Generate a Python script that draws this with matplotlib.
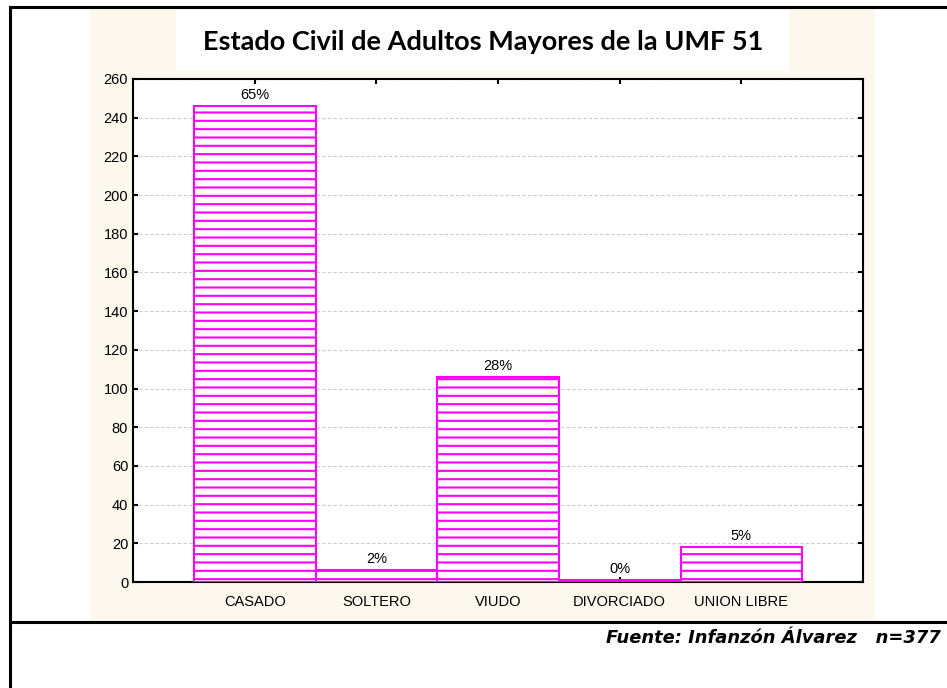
"""
Estado civil de adultos mayores (UMF 51) - gráfico de barras.
"""
import matplotlib
matplotlib.use('Agg')
import matplotlib.pyplot as plt
from matplotlib.patches import Rectangle
from matplotlib.lines import Line2D

# Datos
categorias = ['CASADO', 'SOLTERO', 'VIUDO', 'DIVORCIADO', 'UNION LIBRE']
frecuencias = [246, 6, 106, 1, 18]
porcentajes = ['65%', '2%', '28%', '0%', '5%']
ticks_y = list(range(0, 261, 20))

ANCHO, ALTO = 947, 688
MAGENTA = '#ff00ff'
CREMA = '#fdf8ee'

plt.rcParams['hatch.linewidth'] = 1.5
plt.rcParams['font.family'] = ['Liberation Sans', 'DejaVu Sans']


def px(x, y):
    """Convierte pixeles (origen arriba-izquierda) a coordenadas de figura."""
    return x / ANCHO, 1 - y / ALTO


fig = plt.figure(figsize=(ANCHO / 100, ALTO / 100), dpi=100)
fig.patch.set_facecolor('white')

# Fondo crema y caja blanca del titulo
x0, y0 = px(90, 621)
fig.patches.append(Rectangle((x0, y0), 785 / ANCHO, 612 / ALTO,
                             transform=fig.transFigure, facecolor=CREMA,
                             edgecolor='none', zorder=-2))
x0, y0 = px(176, 71)
fig.patches.append(Rectangle((x0, y0), 613 / ANCHO, 61 / ALTO,
                             transform=fig.transFigure, facecolor='white',
                             edgecolor='none', zorder=-1))

# Marco exterior
for (xa, ya), (xb, yb) in [((10, 7), (947, 7)), ((10, 7), (10, 688)),
                           ((10, 622), (947, 622))]:
    a, b = px(xa, ya), px(xb, yb)
    fig.lines.append(Line2D([a[0], b[0]], [a[1], b[1]], transform=fig.transFigure,
                            color='black', linewidth=2.2, zorder=5))

# Ejes
izq, abajo = px(133, 582)
ax = fig.add_axes([izq, abajo, 730 / ANCHO, 503 / ALTO])
ax.set_facecolor('white')

posiciones = list(range(len(categorias)))
barras = ax.bar(posiciones, frecuencias, width=1.0, facecolor='white',
                edgecolor=MAGENTA, hatch='--', linewidth=1.5, zorder=3)

for barra, etiqueta in zip(barras, porcentajes):
    ax.annotate(etiqueta, (barra.get_x() + barra.get_width() / 2, barra.get_height()),
                xytext=(0, 3), textcoords='offset points', ha='center', va='bottom',
                fontsize=10.5, zorder=4)

ax.set_xlim(-1, 5)
ax.set_ylim(0, 260)
ax.set_yticks(ticks_y)
ax.set_xticks(posiciones)
ax.set_xticklabels(categorias)
ax.tick_params(axis='both', direction='in', labelsize=10.5, length=3.5, width=1.5,
               top=True, right=True)
ax.tick_params(axis='x', pad=9)
ax.grid(True, axis='y', linestyle=(0, (3, 2)), color='#cccccc', linewidth=0.8, zorder=0)
ax.set_axisbelow(True)
for lado in ax.spines.values():
    lado.set_linewidth(1.5)

# Titulo y fuente
fig.text(*px(483, 42), 'Estado Civil de Adultos Mayores de la UMF 51',
         ha='center', va='center', fontsize=19.5, fontweight='bold',
         family=['Lato', 'DejaVu Sans'])
fig.text(*px(941, 638), 'Fuente: Infanzón Álvarez   n=377',
         ha='right', va='center', fontsize=12.9, fontweight='bold',
         style='italic', family=['DejaVu Sans'])

fig.savefig('out.png', dpi=100)
